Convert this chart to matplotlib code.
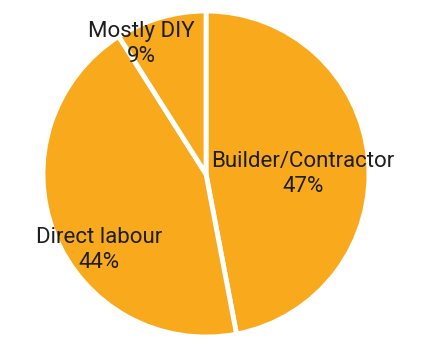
import matplotlib
matplotlib.use("Agg")
import matplotlib.pyplot as plt

categories = ["Builder/Contractor", "Direct labour", "Mostly DIY"]
shares = [47, 44, 9]

# label anchor points (x, first-line baseline y) in axes pixel units
label_pos = {
    "Builder/Contractor": (303, 183),
    "Direct labour": (99, 107),
    "Mostly DIY": (141, 313),
}

W, H = 426, 350
fig = plt.figure(figsize=(W / 100, H / 100), dpi=100)
ax = fig.add_axes([0, 0, 1, 1])

color = "#F8A91C"
ax.pie(
    shares,
    startangle=90,
    counterclock=False,
    colors=[color] * len(shares),
    center=(206, 176),
    radius=163,
    wedgeprops=dict(edgecolor="white", linewidth=3.5),
    frame=True,
)

line_gap = 24.5
for name, val in zip(categories, shares):
    x, y = label_pos[name]
    ax.text(x, y, name, ha="center", va="baseline", fontsize=16,
            family="Roboto", color="#1e1e1e")
    ax.text(x, y - line_gap, f"{val}%", ha="center", va="baseline",
            fontsize=16, family="Roboto", color="#1e1e1e")

ax.set_xlim(0, W)
ax.set_ylim(0, H)
ax.set_aspect("equal")
ax.axis("off")

fig.savefig("out.png", dpi=100, facecolor="white")
